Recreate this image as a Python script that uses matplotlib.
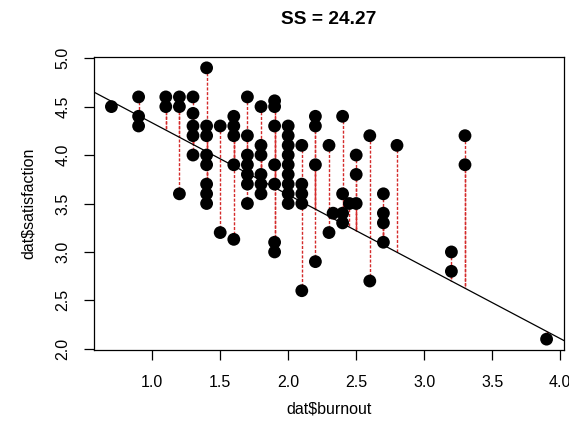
import numpy as np
import matplotlib
matplotlib.use("Agg")
import matplotlib.pyplot as plt

plt.rcParams['font.family'] = ['Liberation Sans', 'DejaVu Sans']

burnout = [0.7,
           0.9, 0.9, 0.9,
           1.1, 1.1,
           1.2, 1.2, 1.2,
           1.3, 1.3, 1.3, 1.3, 1.3,
           1.4, 1.4, 1.4, 1.4, 1.4, 1.4, 1.4, 1.4,
           1.5, 1.5,
           1.6, 1.6, 1.6, 1.6, 1.6,
           1.7, 1.7, 1.7, 1.7, 1.7, 1.7, 1.7,
           1.8, 1.8, 1.8, 1.8, 1.8, 1.8,
           1.9, 1.9, 1.9, 1.9, 1.9, 1.9, 1.9,
           2.0, 2.0, 2.0, 2.0, 2.0, 2.0, 2.0, 2.0, 2.0,
           2.1, 2.1, 2.1, 2.1, 2.1,
           2.2, 2.2, 2.2, 2.2,
           2.3, 2.3,
           2.33,
           2.4, 2.4, 2.4, 2.4,
           2.45,
           2.5, 2.5, 2.5,
           2.6, 2.6,
           2.7, 2.7, 2.7, 2.7,
           2.8,
           3.2, 3.2,
           3.3, 3.3,
           3.9]
satisfaction = [4.5,
                4.6, 4.4, 4.3,
                4.6, 4.5,
                4.6, 4.5, 3.6,
                4.6, 4.43, 4.3, 4.2, 4.0,
                4.9, 4.3, 4.2, 4.0, 3.9, 3.7, 3.6, 3.5,
                4.3, 3.2,
                4.4, 4.3, 4.2, 3.9, 3.13,
                4.6, 4.2, 4.0, 3.9, 3.8, 3.7, 3.5,
                4.5, 4.1, 4.0, 3.8, 3.7, 3.6,
                4.56, 4.5, 4.3, 3.9, 3.7, 3.1, 3.0,
                4.3, 4.2, 4.1, 4.0, 3.9, 3.8, 3.7, 3.6, 3.5,
                4.1, 3.7, 3.6, 3.5, 2.6,
                4.4, 4.3, 3.9, 2.9,
                4.1, 3.2,
                3.4,
                4.4, 3.6, 3.4, 3.3,
                3.5,
                4.0, 3.8, 3.5,
                4.2, 2.7,
                3.6, 3.4, 3.3, 3.1,
                4.1,
                3.0, 2.8,
                4.2, 3.9,
                2.1]
# candidate line shown in the chart (not the OLS fit)
line_intercept = 5.074
line_slope = -0.742
x_ticks = [1.0, 1.5, 2.0, 2.5, 3.0, 3.5, 4.0]
y_ticks = [2.0, 2.5, 3.0, 3.5, 4.0, 4.5, 5.0]
title_text = "SS = 24.27"

x = np.array(burnout)
y = np.array(satisfaction)
fitted = line_intercept + line_slope * x

W, H = 569, 429
fig = plt.figure(figsize=(W / 100, H / 100), dpi=100)
L, R, B, T = 94, 564, 350, 57
ax = fig.add_axes([L / W, 1 - B / H, (R - L) / W, (B - T) / H])

# R-style axis limits (4% extension)
xr = x.max() - x.min()
yr = y.max() - y.min()
ax.set_xlim(x.min() - 0.04 * xr, x.max() + 0.04 * xr)
ax.set_ylim(y.min() - 0.04 * yr, y.max() + 0.04 * yr)

ax.vlines(x, y, fitted, colors='#d42a2a', linestyles=(0, (2.2, 1.2)),
          linewidth=1.0, zorder=1)
ax.axline((0, line_intercept), slope=line_slope, color='black',
          linewidth=0.9, zorder=2)
ax.scatter(x, y, s=85, color='black', edgecolors='none', zorder=3)

ax.set_xticks(x_ticks)
ax.set_xticklabels([f"{v:.1f}" for v in x_ticks])
ax.set_yticks(y_ticks)
ax.set_yticklabels([f"{v:.1f}" for v in y_ticks], rotation=90, va='center')
ax.tick_params(axis='both', direction='out', length=7, width=0.9,
               labelsize=11.5, color='black')
ax.tick_params(axis='x', pad=11)
ax.tick_params(axis='y', pad=10)
for s in ax.spines.values():
    s.set_linewidth(0.9)

fig.text((L + R) / 2 / W, 1 - 19 / H, title_text, ha='center', va='center',
         fontsize=13.8, fontweight='bold')
fig.text((L + R) / 2 / W, 1 - 409 / H, r'dat\$burnout', ha='center',
         va='center', fontsize=11.5)
fig.text(28 / W, 1 - ((T + B) / 2) / H, r'dat\$satisfaction', ha='center',
         va='center', rotation=90, fontsize=11.5)

fig.savefig("out.png", dpi=100)
